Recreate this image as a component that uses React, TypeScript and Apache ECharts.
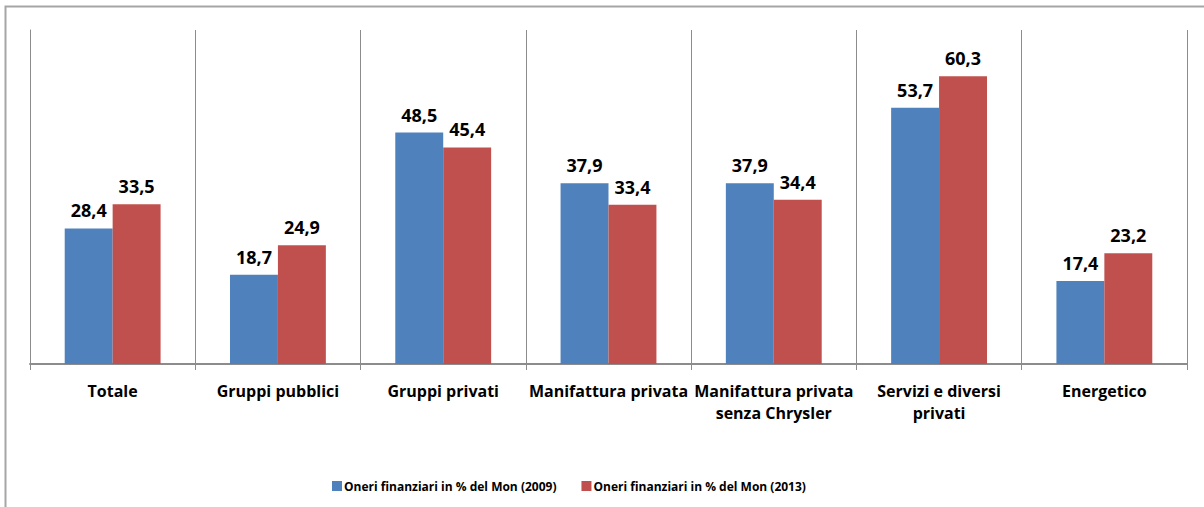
import React, { useEffect, useRef } from "react";
import * as echarts from "echarts";

const categories = [
  "Totale",
  "Gruppi pubblici",
  "Gruppi privati",
  "Manifattura privata",
  "Manifattura privata\nsenza Chrysler",
  "Servizi e diversi\nprivati",
  "Energetico",
];
const series2009 = [28.4, 18.7, 48.5, 37.9, 37.9, 53.7, 17.4];
const series2013 = [33.5, 24.9, 45.4, 33.4, 34.4, 60.3, 23.2];
const seriesNames = [
  "Oneri finanziari in % del Mon (2009)",
  "Oneri finanziari in % del Mon (2013)",
];

const FONT = "'Open Sans', sans-serif";

export default function App() {
  const ref = useRef<HTMLDivElement>(null);
  useEffect(() => {
    if (!ref.current) return;
    const chart = echarts.init(ref.current, null, { renderer: "svg" });
    const label = {
      show: true,
      position: "top",
      distance: 9,
      fontFamily: FONT,
      fontWeight: "bold",
      fontSize: 18,
      color: "#000",
      formatter: (p: any) => String(p.value.toFixed(1)).replace(".", ","),
    };
    chart.setOption({
      animation: false,
      backgroundColor: "#fff",
      graphic: [
        {
          type: "rect",
          shape: { x: 5.5, y: 6.5, width: 1300, height: 600 },
          style: { fill: "none", stroke: "#a6a6a6", lineWidth: 2 },
          silent: true,
        },
      ],
      grid: { left: 30, right: 17, top: 30, bottom: 143 },
      legend: {
        bottom: 10,
        left: 327,
        itemWidth: 10,
        itemHeight: 10,
        itemGap: 25,
        icon: "rect",
        textStyle: { fontFamily: FONT, fontWeight: "bold", fontSize: 12, color: "#000", padding: [0, 0, 0, -3] },
        itemStyle: { borderWidth: 0 },
      },
      xAxis: {
        type: "category",
        data: categories,
        axisLine: { lineStyle: { color: "#8c8c8c", width: 2 } },
        axisTick: { show: true, length: 6, lineStyle: { color: "#8c8c8c" } },
        splitLine: { show: true, lineStyle: { color: "#8c8c8c", width: 1 } },
        axisLabel: {
          interval: 0,
          margin: 16,
          fontFamily: FONT,
          fontWeight: "bold",
          fontSize: 16,
          color: "#000",
          lineHeight: 22,
        },
      },
      yAxis: {
        type: "value",
        min: 0,
        max: 70,
        axisLine: { show: true, lineStyle: { color: "#8c8c8c" } },
        axisTick: { show: false },
        axisLabel: { show: false },
        splitLine: { show: false },
      },
      series: [
        {
          name: seriesNames[0],
          type: "bar",
          data: series2009,
          barGap: "0%",
          barCategoryGap: "42%",
          itemStyle: { color: "#4f81bd" },
          label,
        },
        {
          name: seriesNames[1],
          type: "bar",
          data: series2013,
          itemStyle: { color: "#c0504d" },
          label,
        },
      ],
    });
    return () => chart.dispose();
  }, []);
  return (
    <div
      ref={ref}
      style={{ position: "fixed", left: 0, top: 0, width: 1204, height: 507 }}
    />
  );
}
